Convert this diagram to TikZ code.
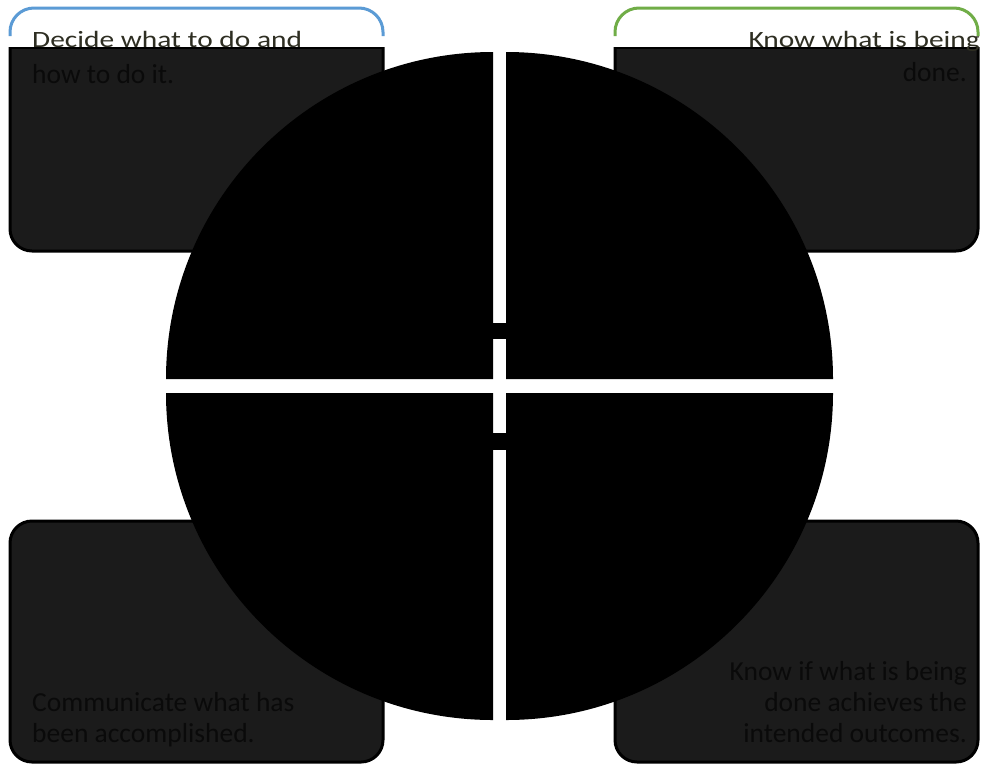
\documentclass[tikz,border=0pt]{standalone}
\usepackage{fontspec}
\setmainfont{Carlito}
\definecolor{boxfill}{HTML}{1B1B1B}
\definecolor{boxtext}{HTML}{0A0A0A}
\definecolor{bandtext}{HTML}{2E2E22}
\definecolor{blueline}{HTML}{5B9BD5}
\definecolor{greenline}{HTML}{70AD47}
\begin{document}
\begin{tikzpicture}[x=1pt,y=-1pt,
  boxshape/.style={fill=boxfill, draw=black, line width=3pt, rounded corners=22pt},
  topedge/.style={line width=3pt, rounded corners=24pt},
  quad/.style={fill=black},
  lbl/.style={inner sep=0pt, text=boxtext, font=\fontsize{27.5}{31}\selectfont},
  bandlbl/.style={lbl, text=bandtext, xscale=1.07, yscale=0.85}]
\useasboundingbox (0,0) rectangle (981,764);
\fill[white] (0,0) rectangle (981,764);

% top-left box
\draw[boxshape] (10,8) rectangle (383,251);
\fill[white] (7,5) rectangle (386,47);
\draw[topedge, draw=blueline] (10,36) -- (10,8) -- (383,8) -- (383,36);
\draw[black, line width=1.5pt] (10,48) -- (383,48);

% top-right box
\draw[boxshape] (615,8) rectangle (978,251);
\fill[white] (612,5) rectangle (981,47);
\draw[topedge, draw=greenline] (615,36) -- (615,8) -- (978,8) -- (978,36);
\draw[black, line width=1.5pt] (615,48) -- (978,48);

% bottom boxes
\draw[boxshape] (10,521) rectangle (383,762);
\draw[boxshape] (615,521) rectangle (978,762);

% texts
\node[bandlbl, anchor=base west] (tlA) at (32,47) {Decide what to do and};
\node[lbl, anchor=base west] (tlB) at (32,83) {how to do it.};
\node[bandlbl, anchor=base east] (trA) at (980,47) {Know what is being};
\node[lbl, anchor=base east] (trB) at (967,81) {done.};
\node[lbl, anchor=base west] (blA) at (32,711) {Communicate what has};
\node[lbl, anchor=base west] (blB) at (32,742) {been accomplished.};
\node[lbl, anchor=base east] (brA) at (967,680) {Know if what is being};
\node[lbl, anchor=base east] (brB) at (967,711) {done achieves the};
\node[lbl, anchor=base east] (brC) at (967,742) {intended outcomes.};

% circle quadrants
\fill[quad] (493,379) -- ++(-327,0) arc[start angle=180, end angle=270, radius=327] -- cycle;
\fill[quad] (506,379) -- ++(327,0) arc[start angle=0, end angle=-90, radius=327] -- cycle;
\fill[quad] (493,393) -- ++(-327,0) arc[start angle=180, end angle=90, radius=327] -- cycle;
\fill[quad] (506,393) -- ++(327,0) arc[start angle=0, end angle=90, radius=327] -- cycle;
\fill[quad] (492,323) rectangle (507,339);
\fill[quad] (492,433) rectangle (507,450);
\end{tikzpicture}
\end{document}
